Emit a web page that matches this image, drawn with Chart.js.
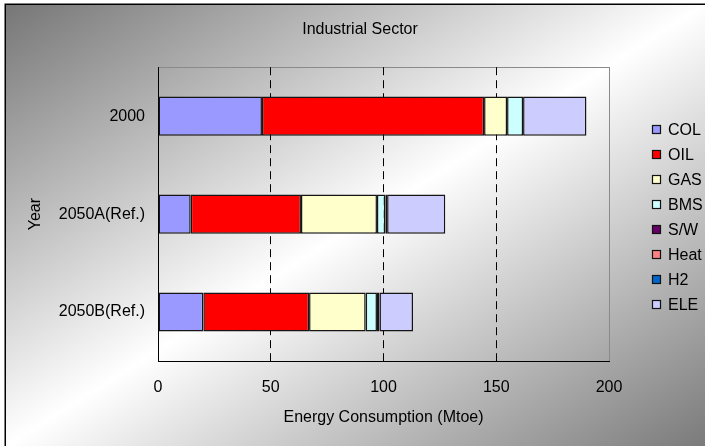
<!DOCTYPE html>
<html>
<head>
<meta charset="utf-8">
<script src="https://cdn.jsdelivr.net/npm/chart.js@4/dist/chart.umd.min.js"></script>
<style>
  html, body { margin: 0; padding: 0; background: #fff; }
  #wrap { width: 705px; height: 446px; position: relative; }
</style>
</head>
<body>
<div id="wrap"><canvas id="c" width="705" height="446"></canvas></div>
<script>
// Scenario rows (top to bottom)
const categories = ['2000', '2050A(Ref.)', '2050B(Ref.)'];

// Energy carriers, in stacking order
const carriers = ['COL', 'OIL', 'GAS', 'BMS', 'S/W', 'Heat', 'H2', 'ELE'];

// Consumption per carrier (Mtoe), one value per scenario row
const COL  = [46.1, 14.5, 20.1];
const OIL  = [98.5, 48.9, 46.9];
const GAS  = [10.2, 33.7, 25.1];
const BMS  = [7.1, 3.7, 5.0];
const SW   = [0, 0.8, 1.1];
const Heat = [0, 0, 0];
const H2   = [0, 0, 0];
const ELE  = [28.1, 25.8, 14.9];

const xTicks = [0, 50, 100, 150, 200];

const seriesValues = [COL, OIL, GAS, BMS, SW, Heat, H2, ELE];
const seriesColors = ['#9999FF', '#FF0000', '#FFFFCC', '#CCFFFF', '#660066', '#FF8080', '#0066CC', '#CCCCFF'];

const FONT = "'Liberation Sans', Arial, sans-serif";

// Framed diagonal grey-white-grey backdrop plus plot frame
const backdrop = {
  id: 'backdrop',
  beforeDraw(chart) {
    const ctx = chart.ctx;
    const W = chart.width, H = chart.height;
    ctx.save();
    ctx.fillStyle = '#ffffff';
    ctx.fillRect(0, 0, W, H);
    const x0 = 5, y0 = 4, w = W - x0 + 1, h = H - y0 + 1;
    ctx.save();
    ctx.translate(x0, y0);
    ctx.scale(w, h);
    const g = ctx.createLinearGradient(0, 0, 1, 1);
    g.addColorStop(0, '#767676');
    g.addColorStop(0.5, '#ffffff');
    g.addColorStop(1, '#7a7a7a');
    ctx.fillStyle = g;
    ctx.fillRect(0, 0, 1, 1);
    ctx.restore();
    ctx.strokeStyle = '#000000';
    ctx.lineWidth = 1.5;
    ctx.strokeRect(x0 + 0.25, y0 + 0.25, W + 10, H + 10);
    const a = chart.chartArea;
    ctx.strokeStyle = '#8a8a8a';
    ctx.lineWidth = 1;
    ctx.strokeRect(Math.round(a.left) + 0.5, Math.round(a.top) + 0.5,
                   Math.round(a.right - a.left), Math.round(a.bottom - a.top));
    ctx.restore();
  }
};

// Vertical key at the right, centred on the plot
const sideKey = {
  id: 'sideKey',
  afterDraw(chart) {
    const ctx = chart.ctx;
    const a = chart.chartArea;
    const sets = chart.data.datasets;
    const step = 25;
    const firstY = (a.top + a.bottom) / 2 + 3 - step * (sets.length - 1) / 2;
    ctx.save();
    ctx.font = '16px ' + FONT;
    ctx.textBaseline = 'middle';
    ctx.textAlign = 'left';
    sets.forEach((ds, i) => {
      const y = Math.round(firstY + i * step);
      ctx.fillStyle = ds.backgroundColor;
      ctx.fillRect(652, y - 5, 9, 9);
      ctx.strokeStyle = '#111111';
      ctx.lineWidth = 1.2;
      ctx.strokeRect(652.5, y - 4.5, 8, 8);
      ctx.fillStyle = '#000000';
      ctx.fillText(ds.label, 668, y + 1);
    });
    ctx.restore();
  }
};

const datasets = carriers.map((name, i) => ({
  label: name,
  data: seriesValues[i],
  backgroundColor: seriesColors[i],
  borderColor: '#151515',
  borderWidth: 1.5,
  borderSkipped: false,
  barPercentage: 0.4,
  categoryPercentage: 1.0
}));

new Chart(document.getElementById('c'), {
  type: 'bar',
  data: { labels: categories, datasets },
  plugins: [backdrop, sideKey],
  options: {
    indexAxis: 'y',
    responsive: false,
    animation: false,
    layout: { padding: { left: 15, right: 0, top: 0, bottom: 0 } },
    plugins: {
      legend: { display: false },
      tooltip: { enabled: false },
      title: {
        display: true,
        text: 'Industrial Sector',
        color: '#000000',
        font: { family: FONT, size: 16, weight: 'normal' },
        padding: { top: 20, bottom: 28 }
      }
    },
    scales: {
      x: {
        stacked: true,
        min: 0,
        max: 200,
        afterBuildTicks(scale) { scale.ticks = xTicks.map(v => ({ value: v })); },
        afterFit(scale) { scale.height = 85; },
        ticks: { color: '#000000', font: { family: FONT, size: 16 }, padding: 17 },
        grid: {
          drawTicks: false,
          color: ctx => (ctx.tick && (ctx.tick.value === 50 || ctx.tick.value === 100 || ctx.tick.value === 150)) ? '#000000' : 'rgba(0,0,0,0)',
          lineWidth: 1
        },
        border: { display: true, color: '#000000', width: 1, dash: [8, 5] },
        title: {
          display: true,
          text: 'Energy Consumption (Mtoe)',
          color: '#000000',
          font: { family: FONT, size: 16 },
          padding: { top: 0, bottom: 19 }
        }
      },
      y: {
        stacked: true,
        afterFit(scale) { scale.width = 143; },
        ticks: { color: '#000000', font: { family: FONT, size: 16 }, padding: 13 },
        grid: { display: false, drawTicks: false },
        border: { display: true, color: '#000000', width: 1 },
        title: {
          display: true,
          text: 'Year',
          color: '#000000',
          font: { family: FONT, size: 16 },
          padding: { top: 11, bottom: 0 }
        }
      },
      keySpace: {
        type: 'category',
        position: 'right',
        afterFit(scale) { scale.width = 96; },
        ticks: { display: false },
        grid: { display: false, drawTicks: false },
        border: { display: false }
      }
    }
  }
});
</script>
</body>
</html>
